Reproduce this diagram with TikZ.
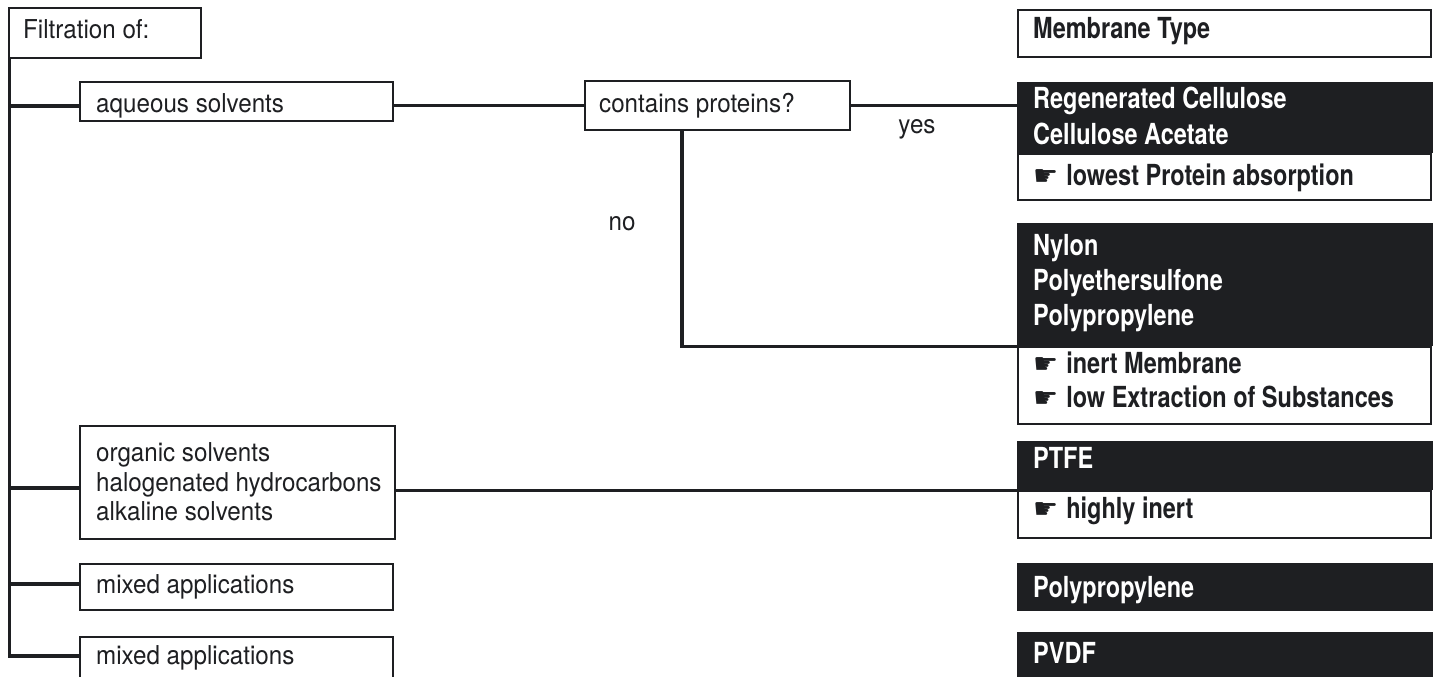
\documentclass[tikz,border=0pt]{standalone}
\usepackage{fontspec}
\setmainfont{TeX Gyre Heros}[FakeStretch=0.93]
\newfontfamily\condbold{TeX Gyre Heros}[FakeStretch=0.81]
\newfontfamily\dv{DejaVu Sans}
\definecolor{ink}{RGB}{30,31,34}
\newcommand{\hand}{{\dv\fontsize{28}{28}\selectfont ☛}\hspace{8pt}}
\begin{document}
\begin{tikzpicture}[x=1pt,y=-1pt,
  box/.style={draw=ink, line width=1.6pt, fill=white, inner sep=0pt, anchor=north west},
  dark/.style={fill=ink, draw=none, inner sep=0pt, anchor=north west},
  conn/.style={draw=ink, line width=3.2pt},
  lt/.style={anchor=base west, inner sep=0pt, text=ink, font=\fontsize{26}{30}\selectfont},
  lc/.style={lt, anchor=base},
  rt/.style={anchor=base west, inner sep=0pt, text=white, font=\condbold\bfseries\fontsize{29}{33}\selectfont},
  rtd/.style={rt, text=ink}]
\useasboundingbox (0,0) rectangle (1433,677);
\clip (0,0) rectangle (1433,677);
\fill[white] (0,0) rectangle (1433,677);

% left boxes
\node[box, minimum width=192pt, minimum height=50pt] (filt) at (8,7) {};
\node[box, minimum width=313pt, minimum height=39pt] (aq) at (79,81) {};
\node[box, minimum width=265pt, minimum height=49pt] (cp) at (584,80) {};
\node[box, minimum width=315pt, minimum height=113pt] (org) at (79,425) {};
\node[box, minimum width=313pt, minimum height=46pt] (mix1) at (79,563) {};
\node[box, minimum width=313pt, minimum height=60pt] (mix2) at (79,636) {};

% right boxes
\node[box, minimum width=413pt, minimum height=47pt] (mt) at (1017,9) {};
\node[dark, minimum width=416pt, minimum height=71pt] (rc) at (1017,82) {};
\node[box, minimum width=413pt, minimum height=46pt] (rcw) at (1017,153) {};
\node[dark, minimum width=416pt, minimum height=123pt] (ny) at (1017,223) {};
\node[box, minimum width=413pt, minimum height=77pt] (nyw) at (1017,346) {};
\node[dark, minimum width=416pt, minimum height=49pt] (ptfe) at (1017,441) {};
\node[box, minimum width=413pt, minimum height=47pt] (ptfew) at (1017,490) {};
\node[dark, minimum width=416pt, minimum height=48pt] (pp) at (1017,563) {};
\node[dark, minimum width=416pt, minimum height=60pt] (pvdf) at (1017,632) {};

% connectors
\coordinate (tr) at (9.5,57);
\coordinate (b1) at (9.5,106);
\coordinate (b2) at (9.5,488);
\coordinate (b3) at (9.5,584);
\coordinate (trend) at (9.5,656);
\coordinate (nb) at (682,129);
\draw[conn] (tr) -- (trend) -- (trend -| mix2.west);
\draw[conn] (b1) -- (b1 -| aq.west);
\draw[conn] (b2) -- (b2 -| org.west);
\draw[conn] (b3) -- (b3 -| mix1.west);
\draw[conn] (aq.east |- cp.west) -- (cp.west);
\draw[conn] (cp.east) -- (cp.east -| rc.west);
\draw[conn] (nb) |- (ny.south west);
\draw[conn] (org.east |- ptfe.south west) -- (ptfe.south west);

% left texts
\node[lt] (tfilt) at (23,39) {Filtration of:};
\node[lt] (taq) at (96,112) {aqueous solvents};
\node[lt] (tcp) at (599,112) {contains proteins?};
\node[lc] (tyes) at (917,133) {yes};
\node[lc] (tno) at (622,230) {no};
\node[lt] (torg1) at (96,461) {organic solvents};
\node[lt] (torg2) at (96,491) {halogenated hydrocarbons};
\node[lt] (torg3) at (96,520) {alkaline solvents};
\node[lt] (tmix1) at (96,593) {mixed applications};
\node[lt] (tmix2) at (96,664) {mixed applications};

% right texts
\node[rtd] (tmt) at (1033,39) {Membrane Type};
\node[rt] (trc1) at (1033,108) {Regenerated Cellulose};
\node[rt] (trc2) at (1033,144) {Cellulose Acetate};
\node[rtd] (trc3) at (1033,185) {\hand lowest Protein absorption};
\node[rt] (tny1) at (1033,255) {Nylon};
\node[rt] (tny2) at (1033,290) {Polyethersulfone};
\node[rt] (tny3) at (1033,325) {Polypropylene};
\node[rtd] (tny4) at (1033,373) {\hand inert Membrane};
\node[rtd] (tny5) at (1033,407) {\hand low Extraction of Substances};
\node[rt] (tptfe) at (1033,468) {PTFE};
\node[rtd] (tptfe2) at (1033,518) {\hand highly inert};
\node[rt] (tpp) at (1033,597) {Polypropylene};
\node[rt] (tpvdf) at (1033,663) {PVDF};
\end{tikzpicture}
\end{document}
